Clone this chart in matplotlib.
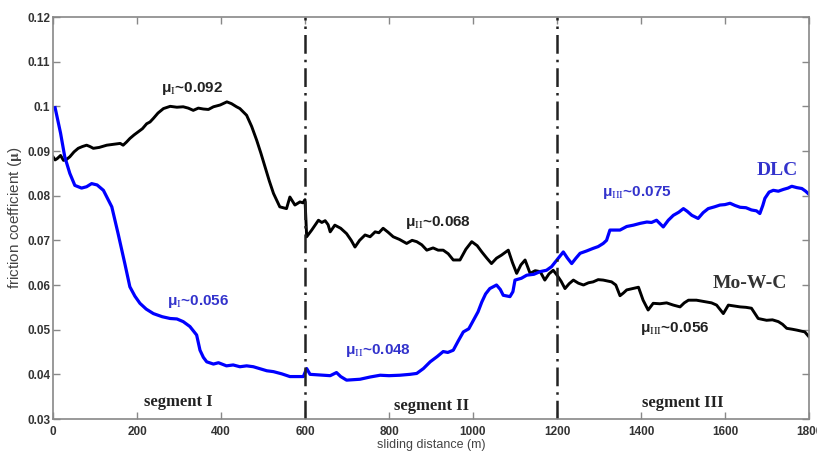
import numpy as np
import matplotlib.pyplot as plt
from matplotlib.ticker import FixedLocator, FixedFormatter

plt.rcParams['mathtext.fontset'] = 'stix'

# DLC (blue) friction trace
dlc_x = [5, 18, 28, 40, 52, 68, 80, 92, 105, 120, 140, 155, 171, 183, 195, 207, 222, 239,
         260, 279, 295, 310, 326, 342, 350, 358, 366, 382, 394, 413, 429, 445, 461, 477,
         509, 525, 545, 564, 588, 596, 604, 612, 644, 660, 675, 685, 699, 731, 755, 779,
         800, 826, 850, 866, 882, 898, 915, 929, 940, 953, 965, 977, 990, 1001, 1012,
         1021, 1030, 1040, 1056, 1065, 1072, 1088, 1095, 1100, 1115, 1128, 1145, 1160,
         1175, 1187, 1203, 1215, 1225, 1235, 1245, 1255, 1270, 1286, 1298, 1310, 1318,
         1326, 1350, 1366, 1382, 1398, 1414, 1425, 1437, 1453, 1465, 1477, 1490, 1501,
         1510, 1521, 1536, 1548, 1560, 1575, 1588, 1600, 1612, 1624, 1636, 1650, 1663,
         1675, 1683, 1690, 1695, 1705, 1715, 1727, 1739, 1750, 1759, 1771, 1783, 1792, 1800]
dlc_y = [0.0997, 0.0940, 0.0887, 0.0850, 0.0823, 0.0817, 0.0820, 0.0827, 0.0824, 0.0812,
         0.0775, 0.0715, 0.0648, 0.0596, 0.0575, 0.0559, 0.0546, 0.0536, 0.0529, 0.0525,
         0.0524, 0.0518, 0.0507, 0.0488, 0.0454, 0.0438, 0.0428, 0.0423, 0.0426, 0.0419,
         0.0421, 0.0417, 0.0419, 0.0417, 0.0408, 0.0406, 0.0401, 0.0395, 0.0395, 0.0395,
         0.0413, 0.0400, 0.0398, 0.0397, 0.0404, 0.0395, 0.0387, 0.0389, 0.0394, 0.0398,
         0.0397, 0.0398, 0.0400, 0.0402, 0.0413, 0.0428, 0.0440, 0.0451, 0.0449, 0.0454,
         0.0475, 0.0495, 0.0502, 0.0521, 0.0540, 0.0562, 0.0580, 0.0592, 0.0600, 0.0590,
         0.0577, 0.0574, 0.0585, 0.0611, 0.0615, 0.0622, 0.0624, 0.0630, 0.0633, 0.0641,
         0.0660, 0.0674, 0.0660, 0.0648, 0.0660, 0.0671, 0.0676, 0.0682, 0.0686, 0.0693,
         0.0700, 0.0723, 0.0723, 0.0731, 0.0734, 0.0738, 0.0741, 0.0740, 0.0745, 0.0730,
         0.0745, 0.0756, 0.0763, 0.0771, 0.0765, 0.0756, 0.0749, 0.0762, 0.0771, 0.0775,
         0.0779, 0.0780, 0.0783, 0.0778, 0.0774, 0.0773, 0.0768, 0.0766, 0.0760, 0.0778,
         0.0794, 0.0808, 0.0812, 0.0810, 0.0814, 0.0817, 0.0821, 0.0818, 0.0816, 0.0810,
         0.0803]

# Mo-W-C (black) friction trace
mwc_x = [0, 5, 10, 18, 25, 32, 40, 50, 60, 70, 80, 88, 96, 110, 128, 145, 160, 167, 175,
         183, 193, 203, 213, 223, 231, 239, 250, 263, 279, 295, 310, 322, 334, 346, 358,
         370, 382, 398, 414, 425, 437, 445, 461, 473, 485, 495, 505, 515, 525, 540, 556,
         564, 570, 576, 588, 595, 600, 604, 616, 632, 640, 648, 655, 660, 671, 685, 699,
         710, 719, 730, 743, 755, 767, 776, 786, 798, 810, 825, 842, 855, 866, 878, 890,
         905, 917, 929, 941, 953, 969, 983, 997, 1010, 1021, 1033, 1044, 1056, 1068,
         1084, 1094, 1104, 1114, 1124, 1136, 1148, 1160, 1171, 1181, 1191, 1200, 1210,
         1219, 1229, 1239, 1251, 1263, 1275, 1286, 1298, 1310, 1320, 1330, 1340, 1350,
         1358, 1366, 1380, 1394, 1405, 1417, 1429, 1445, 1461, 1477, 1493, 1503, 1513,
         1532, 1556, 1568, 1580, 1596, 1608, 1622, 1636, 1650, 1663, 1679, 1699, 1713,
         1727, 1737, 1747, 1760, 1771, 1790, 1800]
mwc_y = [0.0887, 0.0880, 0.0883, 0.0890, 0.0879, 0.0881, 0.0887, 0.0898, 0.0906, 0.0910,
         0.0913, 0.0910, 0.0906, 0.0908, 0.0913, 0.0915, 0.0917, 0.0913, 0.0920, 0.0928,
         0.0936, 0.0943, 0.0950, 0.0961, 0.0965, 0.0973, 0.0985, 0.0995, 0.1000, 0.0998,
         0.0999, 0.0996, 0.0991, 0.0996, 0.0994, 0.0993, 0.0999, 0.1003, 0.1010, 0.1006,
         0.0999, 0.0995, 0.0980, 0.0955, 0.0924, 0.0895, 0.0864, 0.0833, 0.0805, 0.0775,
         0.0771, 0.0797, 0.0788, 0.0779, 0.0786, 0.0784, 0.0791, 0.0708, 0.0723, 0.0745,
         0.0740, 0.0744, 0.0735, 0.0719, 0.0734, 0.0727, 0.0715, 0.0700, 0.0685, 0.0700,
         0.0712, 0.0708, 0.0719, 0.0717, 0.0727, 0.0718, 0.0708, 0.0702, 0.0693, 0.0700,
         0.0697, 0.0690, 0.0678, 0.0683, 0.0678, 0.0678, 0.0670, 0.0656, 0.0656, 0.0680,
         0.0697, 0.0688, 0.0674, 0.0660, 0.0648, 0.0660, 0.0667, 0.0678, 0.0650, 0.0626,
         0.0645, 0.0656, 0.0626, 0.0632, 0.0630, 0.0611, 0.0625, 0.0633, 0.0622, 0.0608,
         0.0592, 0.0603, 0.0611, 0.0604, 0.0600, 0.0605, 0.0607, 0.0612, 0.0611, 0.0609,
         0.0607, 0.0600, 0.0576, 0.0582, 0.0589, 0.0592, 0.0595, 0.0566, 0.0544, 0.0559,
         0.0558, 0.0560, 0.0555, 0.0551, 0.0560, 0.0566, 0.0566, 0.0562, 0.0560, 0.0555,
         0.0536, 0.0555, 0.0553, 0.0551, 0.0550, 0.0548, 0.0525, 0.0521, 0.0522, 0.0518,
         0.0512, 0.0503, 0.0501, 0.0499, 0.0495, 0.0484]

segment_bounds = [600, 1200]
xticks = [0, 200, 400, 600, 800, 1000, 1200, 1400, 1600, 1800]
yticks = [0.03, 0.04, 0.05, 0.06, 0.07, 0.08, 0.09, 0.10, 0.11, 0.12]
ytick_labels = ['0.03', '0.04', '0.05', '0.06', '0.07', '0.08', '0.09', '0.1', '0.11', '0.12']

blue = '#0000ff'
label_blue = '#3333cc'
dark = '#222222'

fig = plt.figure(figsize=(8.17, 4.54), dpi=100)
ax = fig.add_axes([53/817, 35/454, 756/817, 402/454])

ax.plot(mwc_x, mwc_y, color='black', lw=2.1, solid_joinstyle='round')
ax.plot(dlc_x, dlc_y, color=blue, lw=2.3, solid_joinstyle='round')
for b in segment_bounds:
    ax.axvline(b, color='#222222', lw=1.8, linestyle=(0, (7.5, 2.4, 1.0, 2.4)))

ax.set_xlim(0, 1800)
ax.set_ylim(0.03, 0.12)
ax.xaxis.set_major_locator(FixedLocator(xticks))
ax.yaxis.set_major_locator(FixedLocator(yticks))
ax.yaxis.set_major_formatter(FixedFormatter(ytick_labels))
ax.tick_params(direction='in', top=True, right=True, length=5, width=1, color='#888888',
               labelsize=8.5, labelcolor='#333333')
ax.tick_params(axis='y', pad=2)
ax.tick_params(axis='x', pad=5)
for lab in ax.get_xticklabels() + ax.get_yticklabels():
    lab.set_fontfamily('Liberation Sans')
    lab.set_fontweight('bold')
for s in ax.spines.values():
    s.set_color('#888888')
    s.set_linewidth(1.2)

ax.set_xlabel('sliding distance (m)', fontsize=9, color='#444444', family='Liberation Sans')
ax.set_ylabel(r'friction coefficient ($\mathbf{\mu}$)', fontsize=11, color='#444444',
              family='Liberation Sans')
ax.xaxis.set_label_coords(0.5, -0.05)
ax.yaxis.set_label_coords(-0.038, 0.5)

tk = dict(fontsize=11, fontweight='bold', family='Liberation Sans', ha='center', va='center')
ax.text(331, 0.1040, r'μ$_{\mathrm{I}}$~0.092', color=dark, **tk)
ax.text(345, 0.0564, r'μ$_{\mathrm{I}}$~0.056', color=label_blue, **tk)
ax.text(917, 0.0741, r'μ$_{\mathrm{II}}$~0.068', color=dark, **tk)
ax.text(774, 0.0453, r'μ$_{\mathrm{II}}$~0.048', color=label_blue, **tk)
ax.text(1391, 0.0808, r'μ$_{\mathrm{III}}$~0.075', color=label_blue, **tk)
ax.text(1481, 0.0503, r'μ$_{\mathrm{III}}$~0.056', color=dark, **tk)

sk = dict(fontweight='bold', family='Liberation Serif', ha='center', va='center')
ax.text(1724, 0.0857, 'DLC', color=label_blue, fontsize=14, **sk)
ax.text(1660, 0.0604, 'Mo-W-C', color='#333333', fontsize=14, **sk)
ax.text(298, 0.0337, 'segment I', color=dark, fontsize=12, **sk)
ax.text(902, 0.0329, 'segment II', color=dark, fontsize=12, **sk)
ax.text(1500, 0.0336, 'segment III', color=dark, fontsize=12, **sk)

fig.savefig('out.png', dpi=100)
